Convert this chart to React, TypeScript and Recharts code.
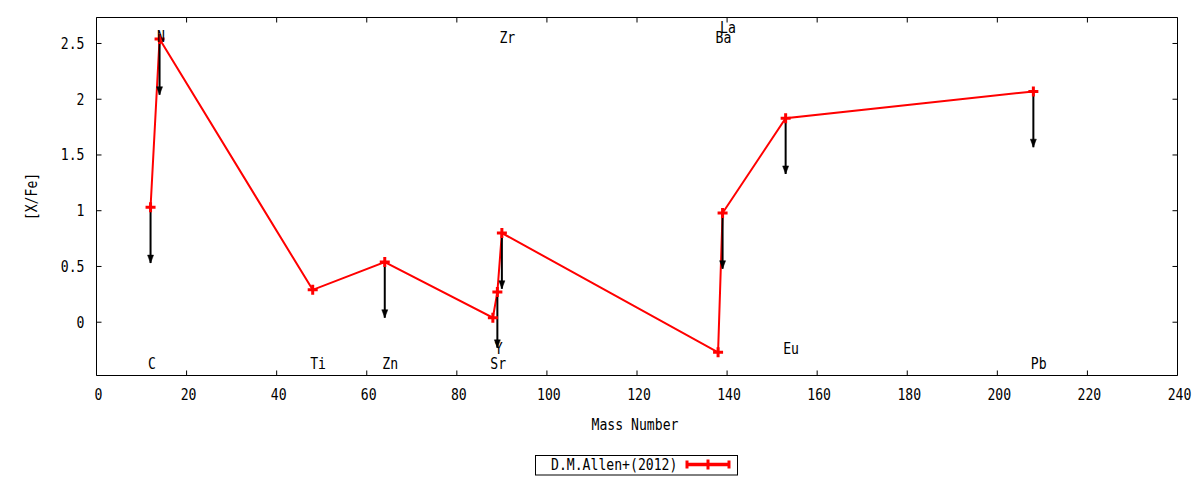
import { ComposedChart, Line, Scatter, XAxis, YAxis } from "recharts";

const seriesName = "D.M.Allen+(2012)";
const elements = ["C", "N", "Ti", "Zn", "Sr", "Y", "Zr", "Ba", "La", "Eu", "Pb"];
const massNumbers = [12, 14, 48, 64, 88, 89, 90, 138, 139, 153, 208];
const abundances = [1.03, 2.54, 0.29, 0.54, 0.04, 0.27, 0.8, -0.27, 0.98, 1.83, 2.07];
const upperLimits = [true, true, false, true, false, true, true, false, true, true, true];
const labelHeights = [-0.37, 2.56, -0.37, -0.37, -0.37, -0.24, 2.55, 2.55, 2.64, -0.24, -0.37];
const arrowLength = 0.5;
const xTicks = [0, 20, 40, 60, 80, 100, 120, 140, 160, 180, 200, 220, 240];
const yTicks = [0, 0.5, 1, 1.5, 2, 2.5];

const FONT = "DejaVu Sans Mono";
const RED = "#ff0000";
const CHAR_W = 7.9;

const points = elements.map((name, i) => ({ mass: massNumbers[i], value: abundances[i], name }));

// each upper limit: start, tip, then a null to break the path
const arrows = elements.flatMap((_, i) =>
  upperLimits[i]
    ? [
        { mass: massNumbers[i], arrow: abundances[i] },
        { mass: massNumbers[i], arrow: abundances[i] - arrowLength, tip: true },
        { mass: massNumbers[i], arrow: null },
      ]
    : []
);

const labels = elements.map((name, i) => ({ mass: massNumbers[i], ly: labelHeights[i], name }));

// gnuplot-ish narrow mono text
const T = ({ children, ...rest }: any) => {
  const s = String(children);
  return (
    <text
      fontSize={15}
      fontFamily={FONT}
      fill="#000"
      textLength={s.length * CHAR_W}
      lengthAdjust="spacingAndGlyphs"
      {...rest}
    >
      {s}
    </text>
  );
};

const BottomTick = (p: any) => (
  <g>
    <line x1={p.x} x2={p.x} y1={p.y - 14} y2={p.y - 19} stroke="#000" />
    <T x={p.x + 2} y={p.y} dy="0.73em" textAnchor="middle">
      {p.payload.value}
    </T>
  </g>
);

const TopTick = (p: any) => <line x1={p.x} x2={p.x} y1={p.y} y2={p.y + 5} stroke="#000" />;

const LeftTick = (p: any) => (
  <g>
    <line x1={p.x + 12} x2={p.x + 17} y1={p.y} y2={p.y} stroke="#000" />
    <T x={p.x} y={p.y} dy="0.36em" textAnchor="end">
      {String(p.payload.value)}
    </T>
  </g>
);

const RightTick = (p: any) => <line x1={p.x} x2={p.x - 5} y1={p.y} y2={p.y} stroke="#000" />;

const PlusDot = (p: any) => {
  if (p.cx == null || p.cy == null) return <g key={p.key} />;
  return (
    <path
      key={p.key}
      d={`M${p.cx - 5},${p.cy}H${p.cx + 5}M${p.cx},${p.cy - 5}V${p.cy + 5}`}
      stroke={RED}
      strokeWidth={3}
      fill="none"
    />
  );
};

const ArrowHead = (p: any) => {
  if (!p.payload || !p.payload.tip || p.cy == null) return <g key={p.key} />;
  return (
    <path
      key={p.key}
      d={`M${p.cx},${p.cy}L${p.cx - 3},${p.cy - 8}L${p.cx + 3},${p.cy - 8}Z`}
      fill="#000"
      stroke="#000"
      strokeWidth={0.5}
    />
  );
};

const ElementLabel = (p: any) => (
  <T x={p.cx - 2.5} y={p.cy} dy="0.36em" textAnchor="start">
    {p.payload.name}
  </T>
);

export default function App() {
  return (
    <div style={{ position: "relative", width: 1184, height: 472 }}>
      <ComposedChart
        width={1184}
        height={472}
        margin={{ top: 8.5, right: 13.5, bottom: 44.5, left: 0 }}
        style={{ fontFamily: FONT }}
      >
        <XAxis
          dataKey="mass"
          type="number"
          domain={[0, 240]}
          ticks={xTicks}
          allowDataOverflow
          height={60}
          tickSize={0}
          tickMargin={14}
          tickLine={false}
          tick={BottomTick}
          axisLine={{ stroke: "#000", strokeWidth: 1 }}
          label={{
            content: (lp: any) => {
              const vb = lp.viewBox;
              return (
                <T x={vb.x + vb.width / 2 - 2} y={vb.y + 54} textAnchor="middle">
                  Mass Number
                </T>
              );
            },
          }}
        />
        <XAxis
          xAxisId="top"
          dataKey="mass"
          orientation="top"
          type="number"
          domain={[0, 240]}
          ticks={xTicks}
          allowDataOverflow
          height={1}
          tickSize={0}
          tickMargin={0}
          tickLine={false}
          tick={TopTick}
          axisLine={{ stroke: "#000", strokeWidth: 1 }}
        />
        <YAxis
          type="number"
          domain={[-0.478, 2.733]}
          ticks={yTicks}
          allowDataOverflow
          width={88.5}
          tickSize={0}
          tickMargin={12}
          tickLine={false}
          tick={LeftTick}
          axisLine={{ stroke: "#000", strokeWidth: 1 }}
          label={{
            content: (lp: any) => {
              const vb = lp.viewBox;
              const cx = 24;
              const cy = vb.y + vb.height / 2;
              return (
                <T x={cx} y={cy} dy="0.36em" textAnchor="middle" transform={`rotate(-90, ${cx}, ${cy})`}>
                  [X/Fe]
                </T>
              );
            },
          }}
        />
        <YAxis
          yAxisId="right"
          orientation="right"
          type="number"
          domain={[-0.478, 2.733]}
          ticks={yTicks}
          allowDataOverflow
          width={1}
          tickSize={0}
          tickMargin={0}
          tickLine={false}
          tick={RightTick}
          axisLine={{ stroke: "#000", strokeWidth: 1 }}
        />
        {/* invisible series so the mirrored frame axes get drawn */}
        <Line
          xAxisId="top"
          yAxisId="right"
          data={points}
          dataKey="value"
          stroke="none"
          dot={false}
          activeDot={false}
          legendType="none"
          isAnimationActive={false}
        />
        <Line
          data={points}
          dataKey="value"
          name={seriesName}
          stroke={RED}
          strokeWidth={2}
          dot={PlusDot}
          activeDot={false}
          isAnimationActive={false}
        />
        <Line
          data={arrows}
          dataKey="arrow"
          stroke="#000"
          strokeWidth={2}
          dot={ArrowHead}
          activeDot={false}
          connectNulls={false}
          legendType="none"
          isAnimationActive={false}
        />
        <Scatter data={labels} dataKey="ly" shape={ElementLabel} legendType="none" isAnimationActive={false} />
      </ComposedChart>
      <svg width={206} height={24} style={{ position: "absolute", left: 527, top: 447 }}>
        <rect x={0.5} y={0.5} width={202} height={19.5} fill="#fff" stroke="#000" />
        <T x={16} y={15}>
          {seriesName}
        </T>
        <line x1={151} x2={195} y1={9.5} y2={9.5} stroke={RED} strokeWidth={3.5} />
        <line x1={152} x2={152} y1={5.5} y2={13.5} stroke={RED} strokeWidth={3} />
        <line x1={194} x2={194} y1={5.5} y2={13.5} stroke={RED} strokeWidth={3} />
        <path d="M168,9.5H178M173,4.5V14.5" stroke={RED} strokeWidth={3} />
      </svg>
    </div>
  );
}
